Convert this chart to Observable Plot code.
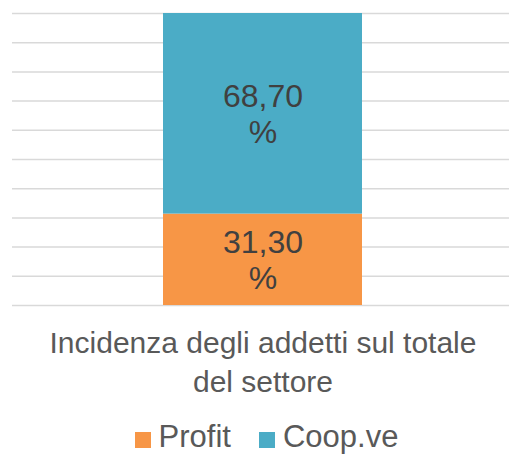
<!DOCTYPE html>
<html>
<head>
<meta charset="utf-8">
<script src="https://cdn.jsdelivr.net/npm/d3@7"></script>
<script src="https://cdn.jsdelivr.net/npm/@observablehq/plot@0.6"></script>
<style>
  html, body { margin: 0; padding: 0; background: #ffffff; }
  body { width: 509px; height: 455px; overflow: hidden; font-family: "Liberation Sans", Arial, sans-serif; }
  #chart svg { display: block; }
  #legend { display: flex; justify-content: center; align-items: center; padding-left: 24px; margin-top: 14px; height: 36px; font-size: 31px; color: #595959; }
  .item { display: flex; align-items: center; }
  .sw { width: 16px; height: 16px; margin-right: 8px; margin-top: 6px; }
</style>
</head>
<body>
<div id="chart"></div>
<div id="legend"></div>
<script>
const categories = ["Incidenza degli addetti sul totale del settore"];
const categoryLines = ["Incidenza degli addetti sul totale", "del settore"];
const series = ["Profit", "Coop.ve"];
const values = [31.3, 68.7];
const colors = ["#F79646", "#4BACC6"];
const gridTicks = [0, 10, 20, 30, 40, 50, 60, 70, 80, 90, 100];

const data = series.map((s, i) => ({category: categories[0], series: s, value: values[i]}));
const fmt = v => v.toFixed(2).replace(".", ",") + "\n%";

const plot = Plot.plot({
  width: 509,
  height: 405,
  marginTop: 13,
  marginBottom: 100,
  marginLeft: 16,
  marginRight: 0,
  style: {fontFamily: '"Liberation Sans", Arial, sans-serif', background: "#ffffff"},
  x: {domain: categories, padding: 0.424, axis: null},
  y: {domain: [0, 100], axis: null},
  color: {domain: series, range: colors},
  marks: [
    Plot.ruleY(gridTicks, {stroke: "#d9d9d9", strokeWidth: 1.5, insetLeft: -4}),
    Plot.barY(data, {x: "category", y: "value", fill: "series"}),
    Plot.text(data, Plot.stackY({x: "category", y: "value", z: "series", text: d => fmt(d.value), fontSize: 32, fill: "#404040", lineHeight: 1.12})),
    Plot.axisX({tickSize: 0, tickPadding: 20, fontSize: 30, lineHeight: 1.3, fill: "#595959", label: null, tickFormat: () => categoryLines.join("\n")})
  ]
});
document.getElementById("chart").appendChild(plot);

const legend = document.getElementById("legend");
series.forEach((s, i) => {
  const item = document.createElement("div");
  item.className = "item";
  if (i > 0) item.style.marginLeft = "28px";
  const sw = document.createElement("span");
  sw.className = "sw";
  sw.style.background = colors[i];
  const label = document.createElement("span");
  label.textContent = s;
  item.appendChild(sw);
  item.appendChild(label);
  legend.appendChild(item);
});
</script>
</body>
</html>
